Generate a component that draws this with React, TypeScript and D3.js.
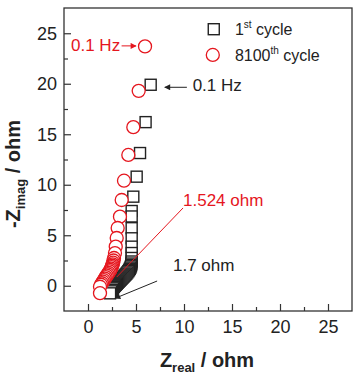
import { useEffect, useRef } from "react";
import * as d3 from "d3";

// Nyquist data (high frequency first)
const cycle1Real = [2.3, 2.4, 2.5, 2.6, 2.7, 2.8, 2.9, 3.0, 3.1, 3.2, 3.3, 3.4, 3.5, 3.6, 3.7, 3.8, 3.9, 4.0, 4.1, 4.2, 4.28, 4.35, 4.42, 4.47, 4.5, 4.53, 4.55, 4.55, 4.55, 4.55, 4.55, 4.55, 4.55, 4.55, 4.72, 5.07, 5.42, 6.0, 6.53];
const cycle1Imag = [-0.75, -0.55, -0.4, -0.25, -0.12, 0.0, 0.1, 0.2, 0.3, 0.4, 0.5, 0.6, 0.7, 0.8, 0.9, 1.0, 1.1, 1.2, 1.32, 1.44, 1.56, 1.68, 1.8, 1.93, 2.06, 2.2, 2.4, 2.75, 3.24, 3.87, 4.7, 5.7, 6.86, 7.4, 8.82, 10.8, 13.14, 16.2, 19.9];
const cycle8100Real = [1.25, 1.25, 1.35, 1.45, 1.55, 1.65, 1.75, 1.85, 1.95, 2.05, 2.15, 2.25, 2.33, 2.4, 2.46, 2.52, 2.57, 2.62, 2.66, 2.71, 2.81, 2.89, 2.99, 3.09, 3.33, 3.51, 3.75, 4.2, 4.72, 5.28, 5.94];
const cycle8100Imag = [-0.74, -0.1, 0.1, 0.25, 0.4, 0.55, 0.7, 0.85, 1.0, 1.14, 1.28, 1.42, 1.56, 1.7, 1.84, 1.98, 2.12, 2.28, 2.5, 2.75, 3.24, 3.87, 4.73, 5.72, 6.84, 8.49, 10.4, 12.95, 15.7, 19.3, 23.7];

const majorTicks = [0, 5, 10, 15, 20, 25];
const minorTicks = [2.5, 7.5, 12.5, 17.5, 22.5];

const FONT = "'Liberation Sans', Arial, sans-serif";
const INK = "#222";
const RED = "#e5161e";

export default function App() {
  const svgRef = useRef<SVGSVGElement>(null);
  const width = 363;
  const height = 388;

  useEffect(() => {
    if (!svgRef.current) return;
    const svg = d3.select(svgRef.current);
    svg.selectAll("*").remove();

    const x = d3.scaleLinear().domain([-2.5, 27.5]).range([64, 352]);
    const y = d3.scaleLinear().domain([-2.5, 27.5]).range([311, 8]);

    const defs = svg.append("defs");
    [["arrBlack", INK], ["arrRed", RED]].forEach(([id, c]) => {
      defs.append("marker")
        .attr("id", id)
        .attr("markerUnits", "userSpaceOnUse")
        .attr("viewBox", "0 0 10 10")
        .attr("refX", 9).attr("refY", 5)
        .attr("markerWidth", 8).attr("markerHeight", 6)
        .attr("orient", "auto")
        .append("path")
        .attr("d", "M0,0L10,5L0,10Z")
        .attr("fill", c);
    });

    // frame
    svg.append("rect")
      .attr("x", x(-2.5)).attr("y", y(27.5))
      .attr("width", x(27.5) - x(-2.5)).attr("height", y(-2.5) - y(27.5))
      .attr("fill", "none").attr("stroke", "#333").attr("stroke-width", 1.3);

    // axes, ticks inward
    const xAxis = svg.append("g").attr("transform", `translate(0,${y(-2.5)})`)
      .call(d3.axisBottom(x).tickValues(majorTicks).tickSize(-7).tickPadding(9).tickFormat(d3.format("d")));
    const xMinor = svg.append("g").attr("transform", `translate(0,${y(-2.5)})`)
      .call(d3.axisBottom(x).tickValues(minorTicks).tickSize(-4).tickFormat(() => ""));
    const yAxis = svg.append("g").attr("transform", `translate(${x(-2.5)},0)`)
      .call(d3.axisLeft(y).tickValues(majorTicks).tickSize(-7).tickPadding(7).tickFormat(d3.format("d")));
    const yMinor = svg.append("g").attr("transform", `translate(${x(-2.5)},0)`)
      .call(d3.axisLeft(y).tickValues(minorTicks).tickSize(-4).tickFormat(() => ""));
    [xAxis, xMinor, yAxis, yMinor].forEach(g => {
      g.select(".domain").remove();
      g.selectAll("line").attr("stroke", "#333").attr("stroke-width", 1.2);
      g.selectAll("text").attr("font-family", FONT).attr("font-size", 18).attr("fill", INK);
    });

    // 1st cycle squares (low frequency drawn first so the dense end stacks on top)
    const sq = 11;
    const pts1 = cycle1Real.map((v, i) => [v, cycle1Imag[i]]).reverse();
    svg.append("g").selectAll("rect").data(pts1).enter().append("rect")
      .attr("x", d => x(d[0]) - sq / 2).attr("y", d => y(d[1]) - sq / 2)
      .attr("width", sq).attr("height", sq)
      .attr("fill", "white").attr("stroke", INK).attr("stroke-width", 1.4);

    // 8100th cycle circles
    const pts2 = cycle8100Real.map((v, i) => [v, cycle8100Imag[i]]).reverse();
    svg.append("g").selectAll("circle").data(pts2).enter().append("circle")
      .attr("cx", d => x(d[0])).attr("cy", d => y(d[1])).attr("r", 6.5)
      .attr("fill", "white").attr("stroke", RED).attr("stroke-width", 1.3);

    // legend
    svg.append("rect")
      .attr("x", x(13.1) - sq / 2).attr("y", y(25.4) - sq / 2)
      .attr("width", sq).attr("height", sq)
      .attr("fill", "white").attr("stroke", INK).attr("stroke-width", 1.4);
    svg.append("circle")
      .attr("cx", x(13.0)).attr("cy", y(22.85)).attr("r", 6.5)
      .attr("fill", "white").attr("stroke", RED).attr("stroke-width", 1.3);

    const legText = (val: string, sup: string, yv: number) => {
      const t = svg.append("text")
        .attr("x", x(15.3)).attr("y", y(yv) + 6)
        .attr("font-family", FONT).attr("font-size", 16).attr("fill", INK);
      t.append("tspan").text(val);
      t.append("tspan").attr("font-size", 10).attr("dy", -7).text(sup);
      t.append("tspan").attr("dy", 7).text(" cycle");
    };
    legText("1", "st", 25.4);
    legText("8100", "th", 22.85);

    // annotations
    const note = (txt: string, xv: number, yv: number, color: string, anchor = "start") =>
      svg.append("text")
        .attr("x", x(xv)).attr("y", y(yv))
        .attr("text-anchor", anchor)
        .attr("font-family", FONT).attr("font-size", 17).attr("fill", color)
        .text(txt);

    const arrow = (x1: number, y1: number, x2: number, y2: number, color: string, id: string | null) => {
      const l = svg.append("line")
        .attr("x1", x(x1)).attr("y1", y(y1))
        .attr("x2", x(x2)).attr("y2", y(y2))
        .attr("stroke", color).attr("stroke-width", 1);
      if (id) l.attr("marker-end", `url(#${id})`);
    };

    note("0.1 Hz", 3.35, 23.2, RED, "end");
    arrow(3.5, 23.75, 5.0, 23.75, RED, "arrRed");

    note("0.1 Hz", 10.9, 19.3, INK);
    arrow(10.3, 19.65, 8.0, 19.65, INK, "arrBlack");

    note("1.524 ohm", 9.9, 7.9, RED);
    arrow(9.9, 7.7, 3.0, 0.87, RED, null);

    note("1.7 ohm", 8.85, 1.45, INK);
    arrow(7.2, 0.47, 2.8, -1.25, INK, "arrBlack");

    // axis titles
    const xt = svg.append("text")
      .attr("x", 207).attr("y", 367)
      .attr("text-anchor", "middle")
      .attr("font-family", FONT).attr("font-size", 20).attr("font-weight", "bold").attr("fill", INK);
    xt.append("tspan").text("Z");
    xt.append("tspan").attr("font-size", 13).attr("dy", 5).text("real");
    xt.append("tspan").attr("dy", -5).text(" / ohm");

    const yt = svg.append("text")
      .attr("transform", `translate(20,174) rotate(-90)`)
      .attr("text-anchor", "middle")
      .attr("font-family", FONT).attr("font-size", 20).attr("font-weight", "bold").attr("fill", INK);
    yt.append("tspan").text("-Z");
    yt.append("tspan").attr("font-size", 13).attr("dy", 5).text("imag");
    yt.append("tspan").attr("dy", -5).text(" / ohm");
  }, []);

  return (
    <svg
      ref={svgRef}
      width={width}
      height={height}
      style={{ position: "absolute", left: 0, top: 0, background: "white" }}
    />
  );
}
